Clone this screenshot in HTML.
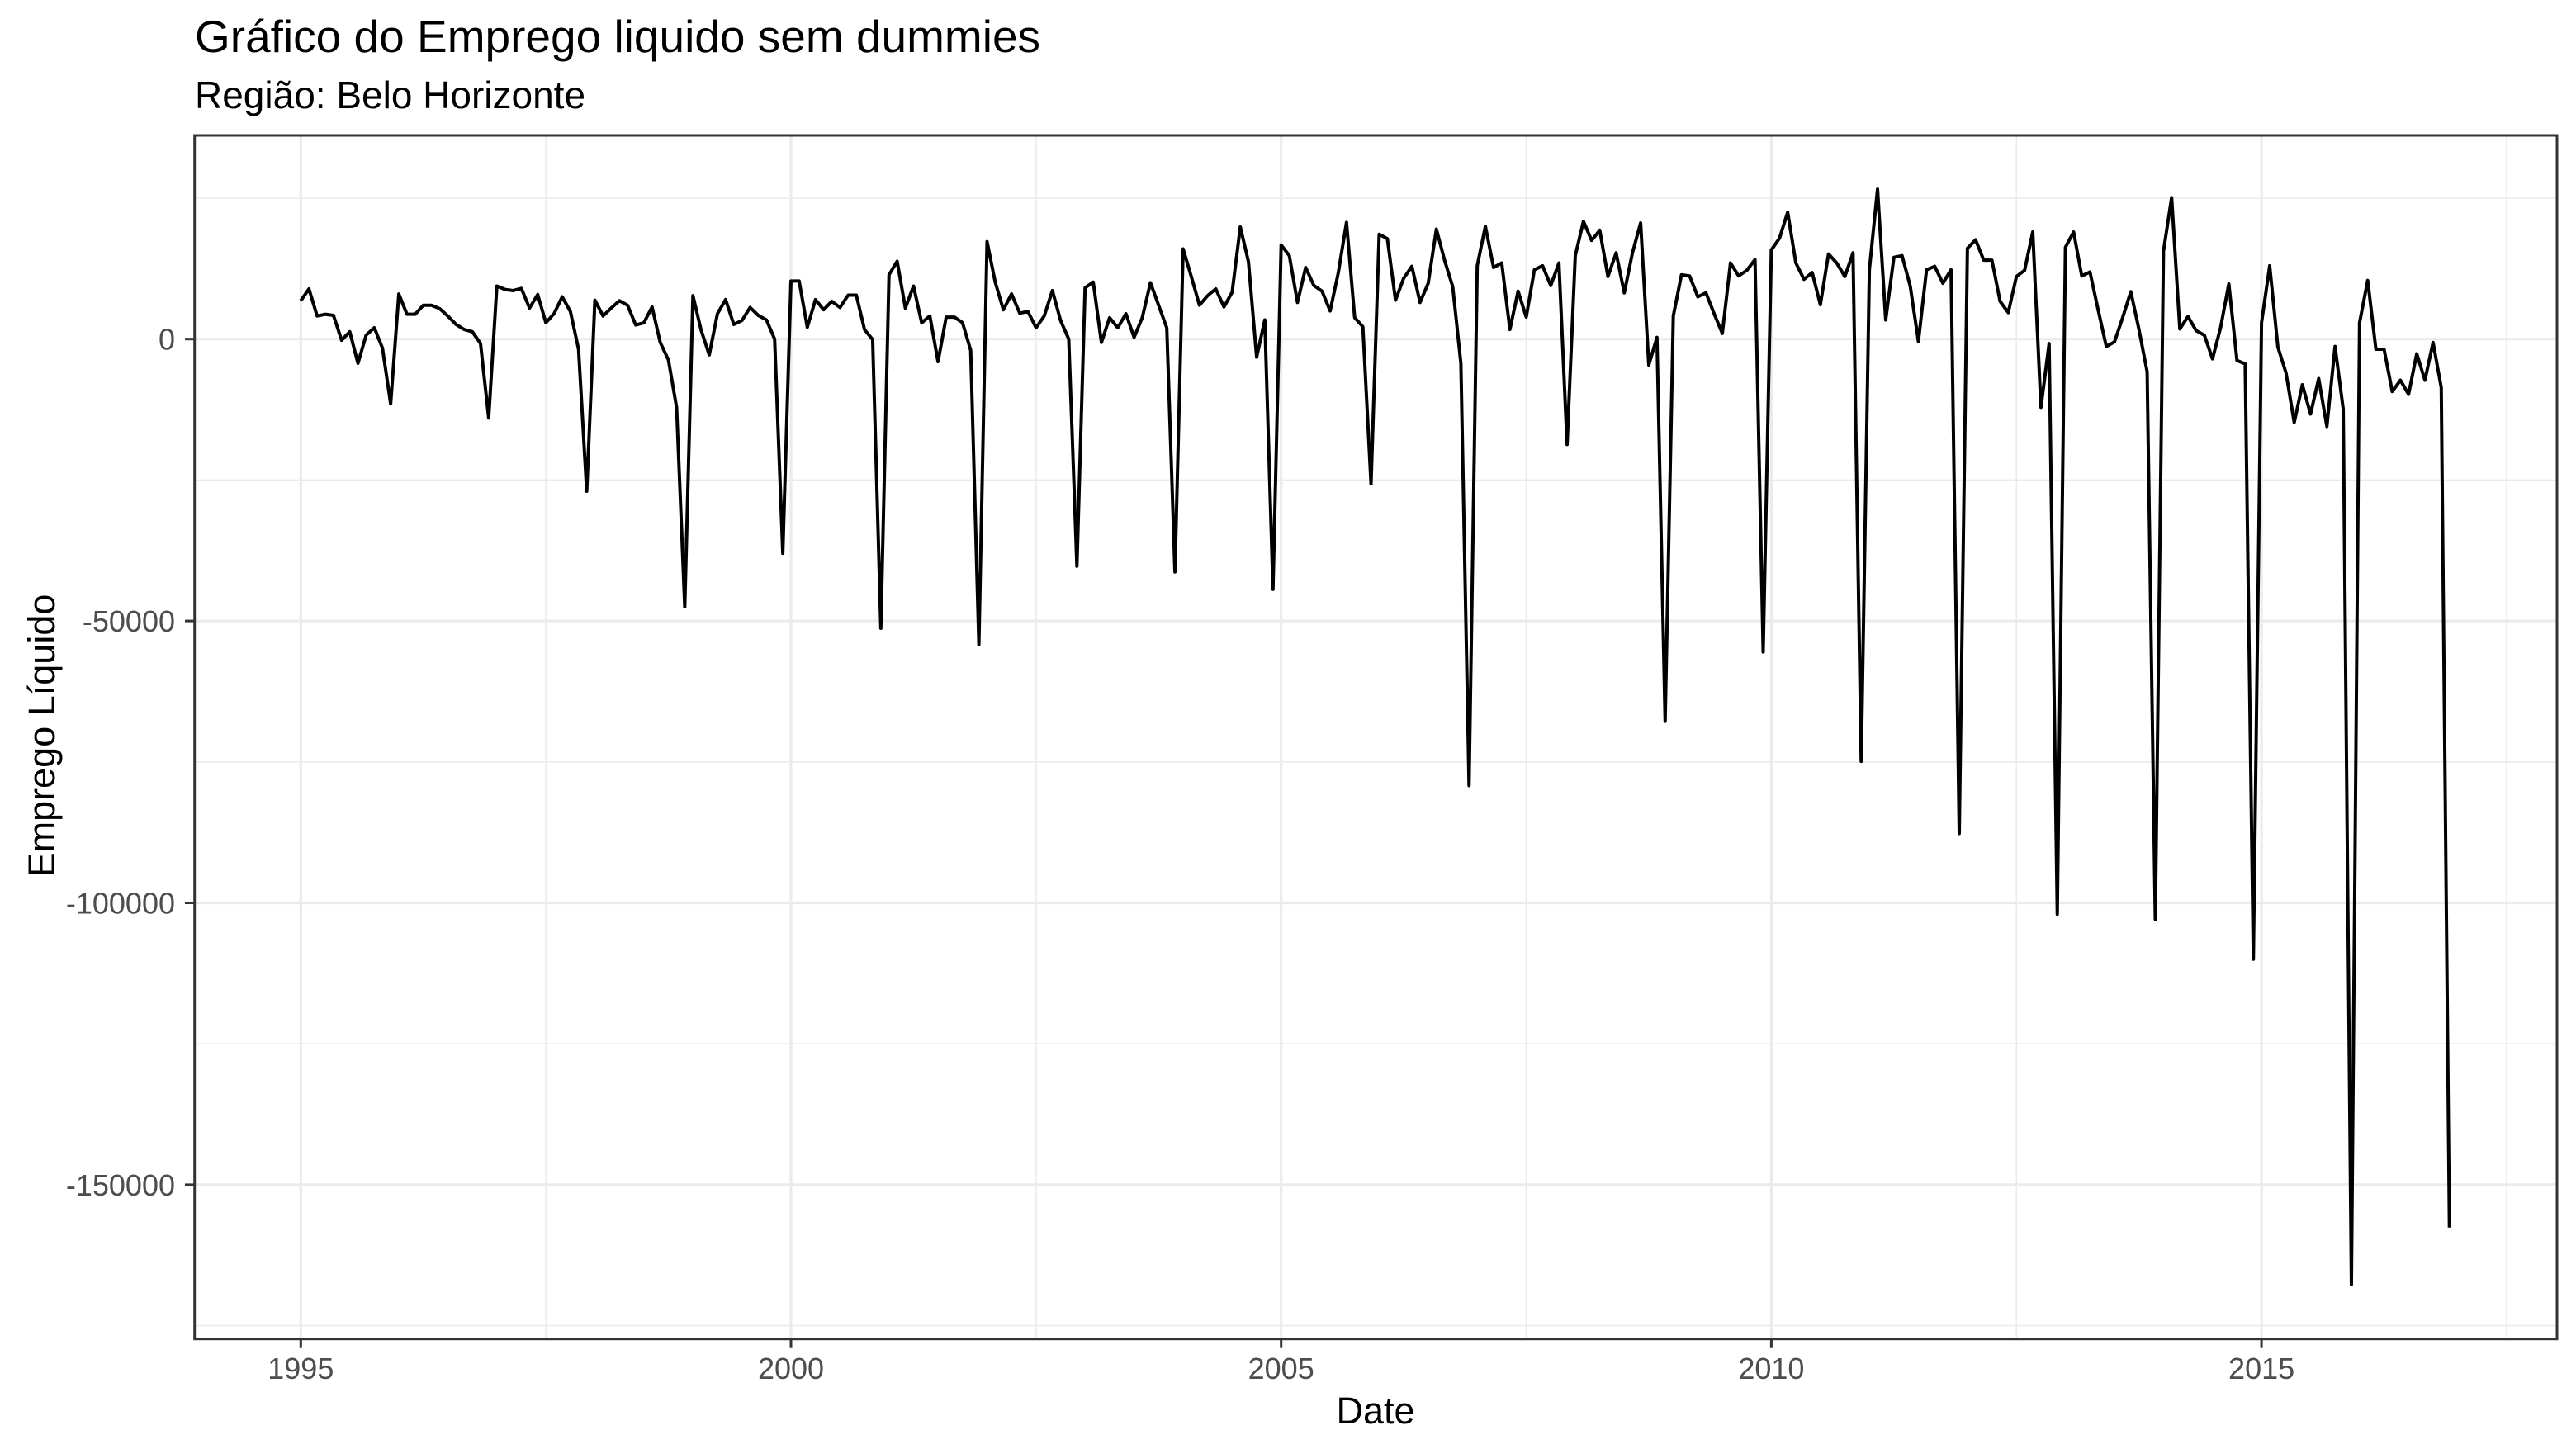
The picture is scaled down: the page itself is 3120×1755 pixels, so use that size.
<!DOCTYPE html>
<html><head><meta charset="utf-8">
<style>
html,body{margin:0;padding:0;background:#fff;}
svg{display:block;font-family:"Liberation Sans",Arial,sans-serif;}
</style></head>
<body>
<svg id="chart" width="3120" height="1755" viewBox="0 0 3120 1755" xmlns="http://www.w3.org/2000/svg">
<rect x="0" y="0" width="3120" height="1755" fill="#fff"/>
<text x="236" y="63" font-size="55" fill="#000">Gráfico do Emprego liquido sem dummies</text>
<text x="236" y="131" font-size="46" fill="#000">Região: Belo Horizonte</text>
<g id="grid"></g>
<g id="series"></g>
<rect x="235.7" y="164" width="2861.3" height="1457.7" fill="none" stroke="#333" stroke-width="3"/>
<g id="axes"></g>
<text x="1666" y="1724" font-size="45" text-anchor="middle" fill="#000">Date</text>
<text transform="translate(66,891) rotate(-90)" font-size="45" text-anchor="middle" fill="#000">Emprego Líquido</text>
</svg>
<script>
const startYear = 1995;
const yTicks = [0, -50000, -100000, -150000];
const yTickLabels = ["0", "-50000", "-100000", "-150000"];
const yMinor = [25000, -25000, -75000, -125000, -175000];
const xTicks = [1995, 2000, 2005, 2010, 2015];
const xTickLabels = ["1995", "2000", "2005", "2010", "2015"];
const xMinor = [1997.5, 2002.5, 2007.5, 2012.5, 2017.5];
const v1995 = [6800, 8900, 4100, 4400, 4200, -200, 1300, -4300, 700, 2000, -1600, -11500];
const v1996 = [8000, 4400, 4400, 6000, 6000, 5400, 4100, 2600, 1700, 1300, -800, -14000];
const v1997 = [9400, 8800, 8600, 9000, 5500, 7900, 2900, 4500, 7500, 4900, -1800, -27000];
const v1998 = [6900, 4100, 5500, 6800, 6000, 2500, 2900, 5700, -600, -3700, -12100, -47500];
const v1999 = [7700, 1600, -2800, 4500, 7000, 2600, 3300, 5600, 4200, 3400, 0, -38000];
const v2000 = [10300, 10300, 2100, 7000, 5200, 6700, 5600, 7800, 7800, 1700, -100, -51300];
const v2001 = [11400, 13800, 5500, 9400, 2900, 4100, -4000, 3900, 3900, 2900, -2000, -54200];
const v2002 = [17300, 10100, 5200, 8000, 4600, 4900, 2000, 4100, 8600, 3300, 0, -40300];
const v2003 = [9100, 10100, -600, 3800, 2000, 4500, 300, 3800, 10000, 6000, 2000, -41300];
const v2004 = [16000, 11100, 6000, 7700, 8900, 5700, 8300, 19900, 13700, -3200, 3400, -44400];
const v2005 = [16700, 14800, 6500, 12700, 9500, 8500, 5000, 11800, 20700, 3800, 2200, -25700];
const v2006 = [18600, 17800, 6900, 10800, 12900, 6500, 9900, 19500, 14000, 9300, -4300, -79200];
const v2007 = [13000, 20000, 12700, 13500, 1700, 8500, 3900, 12300, 13000, 9500, 13500, -18700];
const v2008 = [14800, 20900, 17500, 19300, 11100, 15300, 8200, 15300, 20600, -4600, 300, -67800];
const v2009 = [4100, 11400, 11200, 7500, 8200, 4500, 1000, 13500, 11200, 12200, 14100, -55500];
const v2010 = [15800, 17900, 22500, 13500, 10600, 11800, 6100, 15100, 13500, 11100, 15300, -74900];
const v2011 = [12300, 26600, 3400, 14500, 14800, 9400, -400, 12300, 12900, 9900, 12300, -87700];
const v2012 = [16100, 17600, 14000, 14000, 6700, 4700, 11100, 12200, 19000, -12100, -800, -102000];
const v2013 = [16300, 19000, 11200, 11900, 5200, -1300, -500, 3800, 8400, 1700, -5800, -102900];
const v2014 = [15600, 25100, 1800, 4000, 1500, 700, -3500, 2100, 9800, -3800, -4400, -110000];
const v2015 = [2900, 13000, -1400, -6000, -14800, -8100, -13300, -7000, -15500, -1300, -12400, -167700];
const v2016 = [2900, 10400, -1800, -1800, -9300, -7300, -9800, -2600, -7300, -600, -8600, -157600];

const values = [].concat(v1995,v1996,v1997,v1998,v1999,v2000,v2001,v2002,v2003,v2004,v2005,v2006,v2007,v2008,v2009,v2010,v2011,v2012,v2013,v2014,v2015,v2016);

const NS = "http://www.w3.org/2000/svg";
const PL = 235.7, PR = 3097, PT = 164, PB = 1621.7;
function xScale(yr){ return 364.3 + (yr - 1995) * 118.74; }
function yScale(v){ return 410.7 - v * 0.006828; }
function mk(tag, attrs){ const e = document.createElementNS(NS, tag); for (const k in attrs) e.setAttribute(k, attrs[k]); return e; }

const grid = document.getElementById('grid');
yMinor.forEach(v => {
  const l = mk('line', {x1:PL, x2:PR, y1:yScale(v), y2:yScale(v), stroke:'#ebebeb', 'stroke-width':1.6});
  
  
  grid.appendChild(l);
});
xMinor.forEach(v => {
  const l = mk('line', {x1:xScale(v), x2:xScale(v), y1:PT, y2:PB, stroke:'#ebebeb', 'stroke-width':1.6});
  
  
  grid.appendChild(l);
});
yTicks.forEach(v => {
  const l = mk('line', {x1:PL, x2:PR, y1:yScale(v), y2:yScale(v), stroke:'#ebebeb', 'stroke-width':3.2});
  
  
  grid.appendChild(l);
});
xTicks.forEach(v => {
  const l = mk('line', {x1:xScale(v), x2:xScale(v), y1:PT, y2:PB, stroke:'#ebebeb', 'stroke-width':3.2});
  
  
  grid.appendChild(l);
});

const pts = values.map((v, i) => xScale(startYear + i / 12).toFixed(2) + ',' + yScale(v).toFixed(2)).join(' ');
const line = mk('polyline', {points:pts, fill:'none', stroke:'#000', 'stroke-width':4, 'stroke-linejoin':'round'});


document.getElementById('series').appendChild(line);

const axes = document.getElementById('axes');
yTicks.forEach((v, i) => {
  const t = mk('line', {x1:224, x2:PL, y1:yScale(v), y2:yScale(v), stroke:'#333', 'stroke-width':3});
  
  
  axes.appendChild(t);
  const lb = mk('text', {x:212, y:yScale(v) + 13, 'font-size':36, 'text-anchor':'end', fill:'#4d4d4d'});
  lb.textContent = yTickLabels[i];
  
  
  axes.appendChild(lb);
});
xTicks.forEach((v, i) => {
  const t = mk('line', {x1:xScale(v), x2:xScale(v), y1:PB, y2:PB + 11, stroke:'#333', 'stroke-width':3});
  
  
  axes.appendChild(t);
  const lb = mk('text', {x:xScale(v), y:1670, 'font-size':36, 'text-anchor':'middle', fill:'#4d4d4d'});
  lb.textContent = xTickLabels[i];
  
  
  axes.appendChild(lb);
});
</script>
</body></html>
